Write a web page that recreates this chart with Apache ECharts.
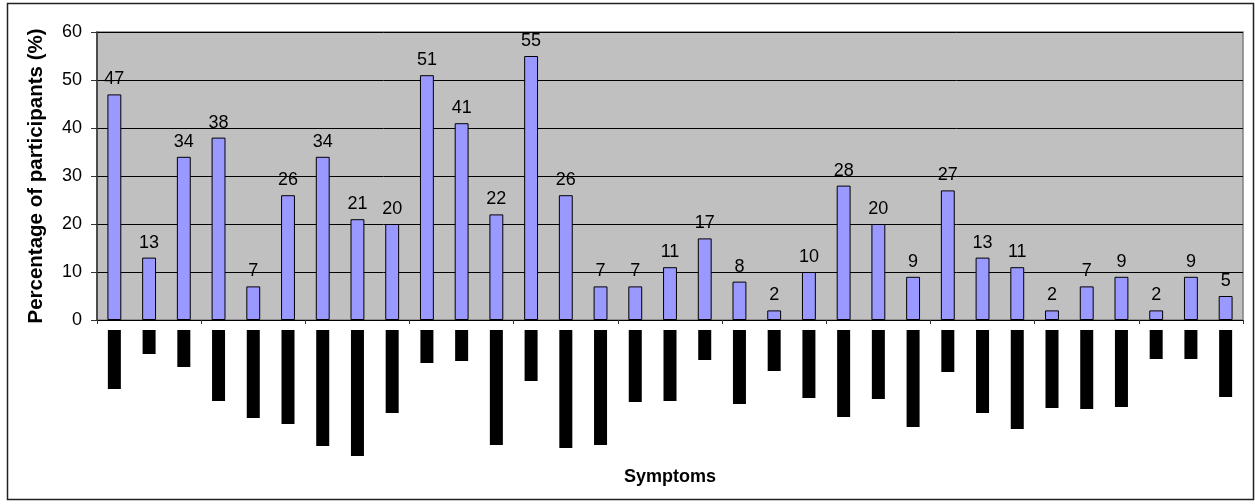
<!DOCTYPE html>
<html>
<head>
<meta charset="utf-8">
<script src="https://cdn.jsdelivr.net/npm/echarts@6/dist/echarts.min.js"></script>
<style>
html,body{margin:0;padding:0;background:#fff;}
#chart{width:1255px;height:504px;}
</style>
</head>
<body>
<div id="chart"></div>
<script>
// Symptom categories (original labels are redacted in the reference image)
const categories = Array.from({length: 33}, (_, i) => 'Symptom ' + (i + 1));
// Percentage of participants reporting each symptom
const percentages = [47, 13, 34, 38, 7, 26, 34, 21, 20, 51, 41, 22, 55, 26, 7, 7, 11, 17, 8, 2, 10, 28, 20, 9, 27, 13, 11, 2, 7, 9, 2, 9, 5];
// Relative lengths of the redacted (blacked-out) category labels
const redactedLabelLengths = [59, 24, 37, 71, 88, 94, 116, 126, 83, 33, 31, 115, 51, 118, 115, 72, 71, 30, 74, 41, 68, 87, 69, 97, 42, 83, 99, 78, 79, 77, 29, 29, 67];
// Y-axis ticks
const yTicks = {min: 0, max: 60, interval: 10};

const FONT = '"Liberation Sans", Arial, sans-serif';
const chart = echarts.init(document.getElementById('chart'));
chart.setOption({
  animation: false,
  backgroundColor: '#ffffff',
  graphic: [{
    type: 'rect',
    shape: {x: 7.5, y: 3.5, width: 1246, height: 496},
    style: {fill: 'none', stroke: '#222', lineWidth: 1.5},
    silent: true
  }],
  grid: [
    {left: 97, top: 32, right: 12, height: 288, show: true, backgroundColor: '#c0c0c0', borderColor: '#808080', borderWidth: 1.5},
    {left: 97, top: 330, right: 12, height: 130}
  ],
  xAxis: [
    {
      type: 'category', gridIndex: 0, data: categories,
      axisLine: {show: true, lineStyle: {color: '#000', width: 1}},
      axisTick: {show: true, length: 4, lineStyle: {color: '#333'}},
      axisLabel: {show: false},
      name: 'Symptoms', nameLocation: 'middle', nameGap: 148,
      nameTextStyle: {fontFamily: FONT, fontSize: 18, fontWeight: 'bold', color: '#000'}
    },
    {
      type: 'category', gridIndex: 1, data: categories,
      axisLine: {show: false}, axisTick: {show: false}, axisLabel: {show: false}
    }
  ],
  yAxis: [
    {
      type: 'value', gridIndex: 0, min: yTicks.min, max: yTicks.max, interval: yTicks.interval,
      axisLine: {show: true, lineStyle: {color: '#333', width: 1.5}},
      axisTick: {show: true, length: 6, inside: false, lineStyle: {color: '#333'}},
      axisLabel: {fontFamily: FONT, fontSize: 18, color: '#000', margin: 15},
      splitLine: {show: true, lineStyle: {color: '#000', width: 1}},
      name: 'Percentage of participants (%)', nameLocation: 'middle', nameGap: 50,
      nameTextStyle: {fontFamily: FONT, fontSize: 20.5, fontWeight: 'bold', color: '#000'}
    },
    {
      type: 'value', gridIndex: 1, min: 0, max: 130, inverse: true, show: false
    }
  ],
  series: [
    {
      type: 'bar', xAxisIndex: 0, yAxisIndex: 0, data: percentages, barWidth: '40%',
      itemStyle: {color: '#9999ff', borderColor: '#000', borderWidth: 1},
      label: {show: true, position: 'top', distance: 6, fontFamily: FONT, fontSize: 18, color: '#000'}
    },
    {
      type: 'bar', xAxisIndex: 1, yAxisIndex: 1, data: redactedLabelLengths, barWidth: 13,
      itemStyle: {color: '#000'}, silent: true
    }
  ]
});
</script>
</body>
</html>
